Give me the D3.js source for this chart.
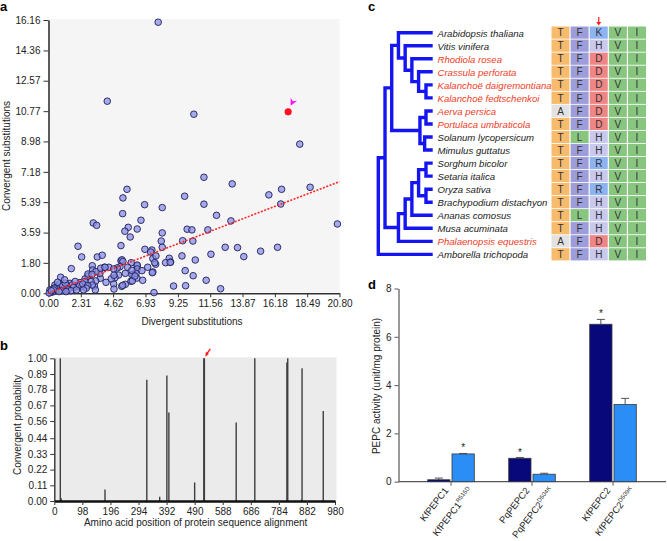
<!DOCTYPE html>
<html>
<head>
<meta charset="utf-8">
<script src="https://cdn.jsdelivr.net/npm/d3@7"></script>
<style>
  body { margin: 0; background: #fff; }
  svg { font-family: "Liberation Sans", Arial, sans-serif; }
</style>
</head>
<body>
<svg id="fig" width="667" height="541"></svg>
<script>
// ---- panel a: divergent vs convergent substitutions
const divX = [7.84, 4.2, 10.39, 17.96,
  11.11, 13.13, 5.61, 16.66, 18.7, 15.75, 5.32, 9.73, 6.87, 11.11, 16.6, 8.13, 5.3, 12.01, 6.61, 13.04,
  3.2, 3.44, 5.7, 9.91, 10.25, 11.39, 5.46, 6.34, 8.13, 5.84, 20.65, 8.06, 9.59, 10.32, 2.11, 5.18,
  8.13, 12.63, 13.51, 16.37, 15.16, 6.89, 7.39, 7.3, 13.96, 11.61, 9.54, 2.37, 3.49, 3.84, 7.46, 8.63,
  10.49, 8.73, 8.37, 5.18, 5.25, 5.32, 5.91, 6.34, 6.34, 3.13, 3.99, 4.32, 1.63, 7.66, 9.77, 7.46,
  7.42, 6.34, 6.06, 5.01, 10.34, 3.7, 4.75, 6.32, 6.73, 5.89, 11.27, 4.11, 4.66, 5.49, 5.23, 8.94,
  9.8, 4.68, 12.3, 7.54, 3.28, 3.35, 3.68, 3.16, 3.39, 3.37, 2.82, 2.61, 3.04, 7.68, 7.59, 8.7,
  5.11, 4.91, 4.66, 6.68, 7.09, 5.49, 5.96, 6.25, 5.66, 5.96, 2.82, 3.11, 4.49, 4.68, 5.99, 6.18,
  5.3, 3.13, 3.73, 4.04,
  0.87, 1.54, 0.46, 0.1, 0.23, 2.25, 2.6, 2.01, 2.37, 2.2, 2.45, 1.7, 1.8, 1.3, 1.1, 0.9, 0.7, 0.5,
  0.3, 0.15, 0.05, 0.6, 0.8, 1.0, 1.2, 1.4, 0.4, 0.95, 1.6, 2.0, 2.8, 2.7, 1.15, 0.65, 1.9, 0.35,
  0.2, 0.75, 1.25, 2.5];
const convY = [16.03, 11.36, 10.59, 8.82,
  6.86, 6.47, 6.15, 6.15, 6.27, 5.82, 5.64, 5.74, 5.24, 5.27, 5.28, 5.07, 4.71, 4.61, 4.32, 4.28,
  4.16, 4.02, 3.9, 3.79, 3.75, 3.75, 3.67, 3.8, 3.57, 3.33, 4.1, 3.09, 3.11, 3.09, 2.78, 2.82,
  2.72, 2.72, 2.7, 2.72, 2.49, 2.6, 2.56, 2.44, 2.17, 2.31, 2.21, 2.15, 2.15, 2.25, 2.05, 2.07,
  1.97, 1.85, 1.81, 1.93, 1.98, 1.88, 1.81, 1.62, 1.67, 1.63, 1.54, 1.54, 1.46, 1.72, 1.34, 1.26,
  1.22, 1.44, 1.12, 1.08, 1.04, 0.89, 0.92, 0.9, 0.77, 0.71, 0.77, 0.65, 0.55, 0.53, 0.41, 0.43,
  0.45, 0.25, 0.27, 0.04, 0.43, 0.2, 1.18, 1.38, 1.28, 0.73, 1.02, 0.85, 0.69, 2.21, 1.81, 1.83,
  1.57, 1.5, 1.44, 1.34, 1.54, 1.18, 1.1, 1.18, 1.54, 1.36, 1.14, 1.12, 0.86, 1.07, 0.73, 1.02,
  0.47, 0.49, 1.48, 1.54,
  0.95, 0.59, 0.49, 0.2, 0.1, 0.63, 0.69, 0.39, 0.39, 0.5, 0.55, 0.5, 0.35, 0.45, 0.3, 0.35, 0.25, 0.15,
  0.08, 0.05, 0.02, 0.4, 0.55, 0.45, 0.6, 0.2, 0.3, 0.15, 0.15, 0.2, 0.45, 0.3, 0.8, 0.65, 0.7, 0.2,
  0.15, 0.1, 0.1, 0.2];
const pepcPoint = [17.13, 10.73];
const fitEnd = [20.8, 6.6];
const aXTicks = ["0.00", "2.31", "4.62", "6.93", "9.25", "11.56", "13.87", "16.18", "18.49", "20.80"];
const aYTicks = ["0.00", "1.80", "3.59", "5.39", "7.18", "8.98", "10.77", "12.57", "14.36", "16.16"];

// ---- panel b: convergent probability along the alignment
const sitePos = [21, 24, 177, 323, 368, 393, 400, 490, 522, 524, 635, 700, 812, 815, 863, 865, 939];
const siteProb = [1.0, 0.02, 0.08, 0.85, 0.03, 0.88, 0.62, 0.13, 1.0, 1.0, 0.55, 1.0, 0.97, 1.0, 0.01, 0.93, 0.63];
const bXTicks = [0, 98, 196, 294, 392, 490, 588, 686, 784, 882, 980];
const bYTicks = ["0.00", "0.11", "0.22", "0.33", "0.44", "0.56", "0.67", "0.78", "0.89", "1.00"];

// ---- panel c: tree and alignment
const species = ["Arabidopsis thaliana", "Vitis vinifera", "Rhodiola rosea", "Crassula perforata",
  "Kalanchoë daigremontiana", "Kalanchoë fedtschenkoi", "Aerva persica", "Portulaca umbraticola",
  "Solanum lycopersicum", "Mimulus guttatus", "Sorghum bicolor", "Setaria italica", "Oryza sativa",
  "Brachypodium distachyon", "Ananas comosus", "Musa acuminata", "Phalaenopsis equestris",
  "Amborella trichopoda"];
const camSpecies = ["Rhodiola rosea", "Crassula perforata", "Kalanchoë daigremontiana",
  "Kalanchoë fedtschenkoi", "Aerva persica", "Portulaca umbraticola", "Phalaenopsis equestris"];
const residues = ["TFKVI", "TFHVI", "TFDVI", "TFDVI", "TFDVI", "TFDVI", "AFDVI", "TFDVI", "TLHVI",
  "TFHVI", "TFRVI", "TFHVI", "TFRVI", "TFHVI", "TLHVI", "TFHVI", "AFDVI", "TFHVI"];
// nested tree: d = node depth, t = tip index
const tree = { d: 0, c: [
  { d: 1, c: [
    { d: 2, c: [
      { d: 3, c: [{ t: 0 }, { d: 4, c: [{ t: 1 }, { d: 5, c: [{ t: 2 }, { d: 6, c: [{ t: 3 }, { d: 7.1, c: [{ t: 4 }, { t: 5 }] }] }] }] }] },
      { d: 6.2, c: [{ d: 7.1, c: [{ t: 6 }, { t: 7 }] }, { d: 6.9, c: [{ t: 8 }, { t: 9 }] }] }
    ] },
    { d: 3, c: [{ d: 4, c: [{ d: 5, c: [{ d: 6, c: [{ d: 7.1, c: [{ t: 10 }, { t: 11 }] }, { d: 7.1, c: [{ t: 12 }, { t: 13 }] }] }, { t: 14 }] }, { t: 15 }] }, { t: 16 }] }
  ] },
  { t: 17 }
] };
const tipDepth = 8.1;

// ---- panel d: PEPC activity
const enzymes = ["KfPEPC1", "PqPEPC2", "KfPEPC2"];
const mutations = ["R515D", "D504K", "D509K"];
const wildActivity = [0.08, 0.97, 6.52];
const wildErr = [0.07, 0.03, 0.2];
const mutantActivity = [1.15, 0.31, 3.2];
const mutantErr = [0.02, 0.04, 0.25];
const starOnWild = [false, true, true];
const dYTicks = [0, 2, 4, 6, 8];

const svg = d3.select("#fig");
const fmt = (g, size) => g.selectAll("text").attr("font-size", size).attr("font-family", "Liberation Sans, Arial, sans-serif").attr("fill", "#222");

function panelLabel(t, x, y) {
  svg.append("text").text(t).attr("x", x).attr("y", y)
    .attr("font-size", 13).attr("font-weight", "bold").attr("fill", "#000");
}

// ================= panel a
const xA = d3.scaleLinear().domain([0, 20.8]).range([48.5, 339.5]);
const yA = d3.scaleLinear().domain([0, 16.16]).range([293.3, 20]);
const gA = svg.append("g");
gA.append("rect").attr("x", xA(0)).attr("y", yA(16.16) - 1)
  .attr("width", xA(20.8) - xA(0)).attr("height", yA(0) - yA(16.16) + 1).attr("fill", "#f5f5f5");

const axA_y = gA.append("g").attr("transform", `translate(${xA(0)},0)`)
  .call(d3.axisLeft(yA).tickValues(aYTicks.map(Number)).tickFormat((d, i) => aYTicks[i]).tickSize(5).tickSizeOuter(0));
const axA_x = gA.append("g").attr("transform", `translate(0,${yA(0)})`)
  .call(d3.axisBottom(xA).tickValues(aXTicks.map(Number)).tickFormat((d, i) => aXTicks[i]).tickSize(4).tickSizeOuter(0));
[axA_y, axA_x].forEach(a => {
  a.select(".domain").attr("stroke", "#333").attr("stroke-width", 1.6);
  a.selectAll(".tick line").attr("stroke", "#333");
  fmt(a, 10);
});

const pts = divX.map((d, i) => ({ x: d, y: convY[i] }));
gA.selectAll(".pt").data(pts).join("circle").attr("class", "pt")
  .attr("cx", d => xA(d.x)).attr("cy", d => yA(d.y)).attr("r", 3.3)
  .attr("fill", "#8c90e6").attr("fill-opacity", 0.75)
  .attr("stroke", "#1e1e58").attr("stroke-width", 0.9);

gA.append("line").attr("x1", xA(0)).attr("y1", yA(0)).attr("x2", xA(fitEnd[0])).attr("y2", yA(fitEnd[1]))
  .attr("stroke", "#ff2626").attr("stroke-width", 1.6).attr("stroke-dasharray", "2,1.5");

gA.append("circle").attr("cx", xA(pepcPoint[0])).attr("cy", yA(pepcPoint[1])).attr("r", 3.6).attr("fill", "#ff1028");
{
  const tx = xA(pepcPoint[0]) + 2.5, ty = yA(pepcPoint[1]) - 6;
  gA.append("path")
    .attr("d", `M${tx},${ty} L${tx},${ty - 8} L${tx + 2.2},${ty - 4.6} L${tx + 6.5},${ty - 5.2} Z`)
    .attr("fill", "#ff10ff");
}

gA.append("text").text("Divergent substitutions").attr("x", (xA(0) + xA(20.8)) / 2 - 2).attr("y", 325)
  .attr("text-anchor", "middle").attr("font-size", 10).attr("fill", "#222");
gA.append("text").text("Convergent substitutions").attr("transform", "translate(10,156) rotate(-90)")
  .attr("text-anchor", "middle").attr("font-size", 10).attr("fill", "#222");
panelLabel("a", 0, 10.5);

// ================= panel b
const xB = d3.scaleLinear().domain([0, 980]).range([54.3, 335]);
const yB = d3.scaleLinear().domain([0, 1]).range([501, 358.3]);
const gB = svg.append("g");
gB.append("rect").attr("x", xB(0)).attr("y", yB(1) - 1).attr("width", xB(980) - xB(0) + 1.5)
  .attr("height", yB(0) - yB(1) + 1).attr("fill", "#ebebeb");

gB.selectAll(".site").data(sitePos.map((p, i) => ({ p, v: siteProb[i] }))).join("line").attr("class", "site")
  .attr("x1", d => xB(d.p)).attr("x2", d => xB(d.p))
  .attr("y1", yB(0)).attr("y2", d => yB(d.v))
  .attr("stroke", "#3e3e3e").attr("stroke-width", 1.4);

const axB_y = gB.append("g").attr("transform", `translate(${xB(0)},0)`)
  .call(d3.axisLeft(yB).tickValues(bYTicks.map(Number)).tickFormat((d, i) => bYTicks[i]).tickSize(4).tickSizeOuter(0));
const axB_x = gB.append("g").attr("transform", `translate(0,${yB(0)})`)
  .call(d3.axisBottom(xB).tickValues(bXTicks).tickSize(4).tickSizeOuter(0));
axB_y.select(".domain").attr("stroke", "#333").attr("stroke-width", 1.4);
axB_x.select(".domain").attr("stroke", "#111").attr("stroke-width", 2.6);
[axB_y, axB_x].forEach(a => { a.selectAll(".tick line").attr("stroke", "#333"); fmt(a, 10); });

{
  const ax = xB(522) + 1.5, ay = yB(1) - 1.5;
  gB.append("line").attr("x1", ax + 5).attr("y1", ay - 8).attr("x2", ax + 1.5).attr("y2", ay - 3)
    .attr("stroke", "#ff1a1a").attr("stroke-width", 1.4);
  gB.append("path").attr("d", `M${ax},${ay} L${ax + 0.6},${ay - 5} L${ax + 3.6},${ay - 2.8} Z`).attr("fill", "#ff1a1a");
}

gB.append("text").text("Amino acid position of protein sequence alignment")
  .attr("x", (xB(0) + xB(980)) / 2 + 1).attr("y", 526).attr("text-anchor", "middle")
  .attr("font-size", 10).attr("fill", "#222");
gB.append("text").text("Convergent probability").attr("transform", "translate(21,425) rotate(-90)")
  .attr("text-anchor", "middle").attr("font-size", 10).attr("fill", "#222");
panelLabel("b", 0, 350);

// ================= panel c
const rowY = d3.scaleLinear().domain([0, species.length - 1]).range([32.7, 254.4]);
const depthX = d3.scaleLinear().domain([0, tipDepth]).range([378.3, 432.7]);
const gC = svg.append("g");

function layout(n) {
  if (n.t !== undefined) { n.x = depthX(tipDepth); n.y = rowY(n.t); return; }
  n.c.forEach(layout);
  n.x = depthX(n.d);
  n.y = d3.mean(n.c, c => c.y);
}
layout(tree);
const inner = [];
(function walk(n) { if (n.c) { inner.push(n); n.c.forEach(walk); } })(tree);

gC.selectAll(".clade").data(inner).join("path").attr("class", "clade")
  .attr("d", n => `M${n.c[0].x},${n.c[0].y}H${n.x}V${n.c[1].y}H${n.c[1].x}`)
  .attr("fill", "none").attr("stroke", "#1515f2").attr("stroke-width", 3.4)
  .attr("stroke-linejoin", "miter");

gC.selectAll(".sp").data(species).join("text").attr("class", "sp")
  .attr("x", 437.5).attr("y", (d, i) => rowY(i) + 3.8).text(d => d)
  .attr("font-size", 9.6).attr("font-style", "italic")
  .attr("fill", d => camSpecies.includes(d) ? "#ee3b24" : "#1a1a1a");

const resColor = { T: "#f7bb6d", F: "#9d9dda", K: "#8db3f3", H: "#c9c9ee", D: "#ef8585",
  V: "#88c680", I: "#88c680", L: "#88c680", R: "#8db3f3", A: "#e2e2e2" };
const colX = d3.scaleBand().domain(d3.range(5)).range([551.5, 646]).paddingInner(0.06);
const cells = [];
residues.forEach((s, r) => s.split("").forEach((aa, c) => cells.push({ r, c, aa })));
gC.selectAll(".cell").data(cells).join("rect").attr("class", "cell")
  .attr("x", d => colX(d.c)).attr("y", d => rowY(d.r) - 6.2)
  .attr("width", colX.bandwidth()).attr("height", 12.2)
  .attr("fill", d => resColor[d.aa]);
gC.selectAll(".aa").data(cells).join("text").attr("class", "aa")
  .attr("x", d => colX(d.c) + colX.bandwidth() / 2).attr("y", d => rowY(d.r) + 3.6)
  .attr("text-anchor", "middle").attr("font-size", 10).attr("fill", "#333").text(d => d.aa);

{
  const ax = colX(2) + colX.bandwidth() / 2;
  gC.append("line").attr("x1", ax).attr("x2", ax).attr("y1", 17).attr("y2", 22.5)
    .attr("stroke", "#ff1a1a").attr("stroke-width", 1.2);
  gC.append("path").attr("d", `M${ax - 2.5},${22} L${ax + 2.5},${22} L${ax},${25.5} Z`).attr("fill", "#ff1a1a");
}
panelLabel("c", 368, 11);

// ================= panel d
const yD = d3.scaleLinear().domain([0, 8]).range([481.7, 288.5]);
const cD = d3.scalePoint().domain(enzymes).range([451, 613]);
const barW = 22.3;
const gD = svg.append("g");

const axD_y = gD.append("g").attr("transform", "translate(398.5,0)")
  .call(d3.axisLeft(yD).tickValues(dYTicks).tickSize(4).tickSizeOuter(0));
axD_y.select(".domain").attr("stroke", "#555").attr("stroke-width", 1.2);
axD_y.selectAll(".tick line").attr("stroke", "#555");
fmt(axD_y, 10);
gD.append("line").attr("x1", 398.5).attr("x2", 666).attr("y1", yD(0)).attr("y2", yD(0))
  .attr("stroke", "#555").attr("stroke-width", 1.2);
gD.selectAll(".gt").data(enzymes).join("line").attr("class", "gt")
  .attr("x1", d => cD(d)).attr("x2", d => cD(d)).attr("y1", yD(0)).attr("y2", yD(0) + 4)
  .attr("stroke", "#555");

const bars = [];
enzymes.forEach((e, i) => {
  bars.push({ name: e, sup: "", x: cD(e) - 1 - barW, v: wildActivity[i], err: wildErr[i], star: starOnWild[i], fill: "#08087a" });
  bars.push({ name: e, sup: mutations[i], x: cD(e) + 1, v: mutantActivity[i], err: mutantErr[i], star: !starOnWild[i], fill: "#2b8df6" });
});

gD.selectAll(".eb").data(bars).join("path").attr("class", "eb")
  .attr("d", d => {
    const cx = d.x + barW / 2, t = yD(d.v + d.err);
    return `M${cx},${yD(d.v)}V${t}M${cx - 4},${t}H${cx + 4}`;
  })
  .attr("stroke", "#555").attr("stroke-width", 1).attr("fill", "none");
gD.selectAll(".bar").data(bars).join("rect").attr("class", "bar")
  .attr("x", d => d.x).attr("width", barW)
  .attr("y", d => yD(d.v)).attr("height", d => yD(0) - yD(d.v))
  .attr("fill", d => d.fill).attr("stroke", "#3a3a3a").attr("stroke-width", 0.8);
gD.selectAll(".star").data(bars.filter(d => d.star)).join("text").attr("class", "star")
  .attr("x", d => d.x + barW / 2).attr("y", d => yD(d.v + d.err) - 2)
  .attr("text-anchor", "middle").attr("font-size", 10).attr("fill", "#222").text("*");

const lab = gD.selectAll(".xl").data(bars).join("text").attr("class", "xl")
  .attr("transform", d => `translate(${d.x + barW / 2 + 10},${yD(0) + 9}) rotate(-52)`)
  .attr("text-anchor", "end").attr("font-size", 9.4).attr("fill", "#222");
lab.append("tspan").text(d => d.name);
lab.filter(d => d.sup).append("tspan").attr("font-size", 6).attr("dy", -3.8).text(d => d.sup);

gD.append("text").text("PEPC activity (unit/mg protein)").attr("transform", "translate(380,386) rotate(-90)")
  .attr("text-anchor", "middle").attr("font-size", 10).attr("fill", "#222");
panelLabel("d", 368, 289);
</script>
</body>
</html>
